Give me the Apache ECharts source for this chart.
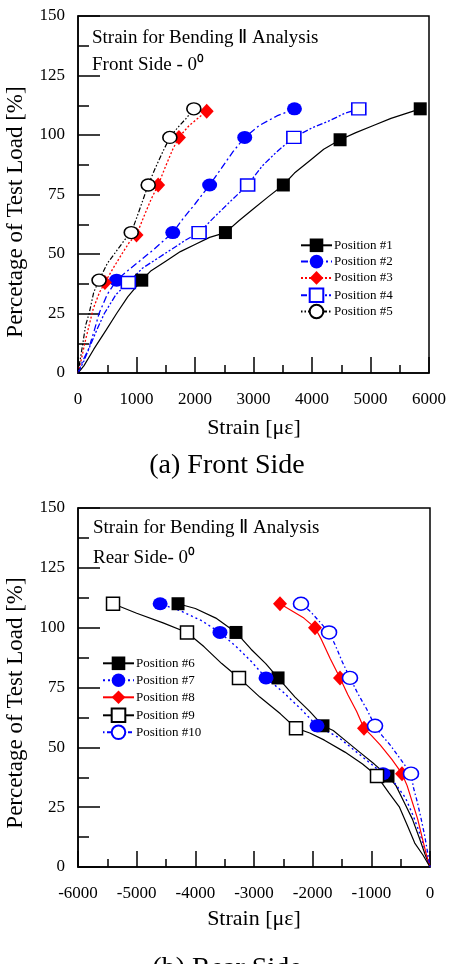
<!DOCTYPE html>
<html>
<head>
<meta charset="utf-8">
<script src="https://cdn.jsdelivr.net/npm/echarts@6/dist/echarts.min.js"></script>
<style>
html,body{margin:0;padding:0;background:#fff;}
#chart{width:449px;height:964px;}
</style>
</head>
<body>
<div id="chart"></div>
<script>
// ---------- Data (strain [με], load [%]) ----------
// Front side (a)
const p1Curve = [[0,0],[100,3],[270,10],[480,18],[660,25],[850,32],[1250,43],[1500,47],[1750,51],[2000,54],[2250,57],[2750,64],[3000,69],[3250,74],[3700,84],[3950,89],[4200,94],[4750,101],[5050,104],[5350,107],[5600,109]];
const p1Marks = [[1090,39],[2520,59],[3510,79],[4480,98],[5850,111]];
const p2Curve = [[0,0],[80,5],[180,10],[280,18],[360,25],[500,33],[850,43],[1050,47],[1300,52],[1800,65],[2000,71],[2450,86],[2650,93],[3100,104],[3400,108]];
const p2Marks = [[660,39],[1620,59],[2250,79],[2850,99],[3700,111]];
const p3Curve = [[0,0],[60,6],[120,13],[190,20],[260,27],[370,34],[600,44],[750,50],[880,55],[1130,66],[1250,73],[1500,87],[1620,94],[1900,104],[2050,107]];
const p3Marks = [[460,38],[1000,58],[1370,79],[1725,99],[2200,110]];
const p4Curve = [[0,0],[100,5],[200,11],[320,18],[450,25],[650,33],[1100,44],[1350,48],[1600,52],[1850,56],[2350,66],[2600,72],[3150,87],[3400,93],[4000,103],[4300,106],[4550,109]];
const p4Marks = [[860,38],[2070,59],[2900,79],[3690,99],[4800,111]];
const p5Curve = [[0,0],[40,6],[80,12],[130,20],[190,25],[270,34],[500,46],[650,51],[800,56],[1000,65],[1100,72],[1320,86],[1450,93],[1700,103],[1850,107]];
const p5Marks = [[360,39],[910,59],[1200,79],[1570,99],[1980,111]];
// Rear side (b)
const p6Curve = [[0,0],[-80,5],[-180,12],[-300,20],[-420,26],[-580,34],[-950,43],[-1200,48],[-1450,53],[-1650,57],[-2050,65],[-2300,71],[-2800,85],[-3050,91],[-3650,104],[-4000,108]];
const p6Marks = [[-716,38],[-1824,59],[-2590,79],[-3307,98],[-4295,110]];
const p7Curve = [[0,0],[-70,6],[-160,13],[-280,21],[-420,29],[-600,35],[-1050,44],[-1300,49],[-1550,54],[-2200,66],[-2500,73],[-3050,86],[-3300,92],[-3900,103],[-4250,107]];
const p7Marks = [[-801,39],[-1926,59],[-2795,79],[-3580,98],[-4600,110]];
const p8Curve = [[0,0],[-60,5],[-130,12],[-210,20],[-300,27],[-390,34],[-650,45],[-850,51],[-1000,55],[-1250,65],[-1400,72],[-1700,87],[-1850,95],[-2150,104],[-2350,107]];
const p8Marks = [[-477,39],[-1125,58],[-1534,79],[-1960,100],[-2557,110]];
const p9Curve = [[0,0],[-120,5],[-260,10],[-380,17],[-520,25],[-700,31],[-1150,43],[-1450,48],[-1800,53],[-2050,56],[-2550,64],[-2900,71],[-3550,85],[-3850,92],[-4550,102],[-5000,106]];
const p9Marks = [[-903,38],[-2284,58],[-3256,79],[-4142,98],[-5403,110]];
const p10Curve = [[0,0],[-40,6],[-90,13],[-150,20],[-215,27],[-280,33],[-500,45],[-680,51],[-820,55],[-1080,66],[-1220,72],[-1500,86],[-1620,93],[-1900,103],[-2050,107]];
const p10Marks = [[-324,39],[-937,59],[-1364,79],[-1721,98],[-2199,110]];

const frontNames = ['Position #1','Position #2','Position #3','Position #4','Position #5'];
const rearNames = ['Position #6','Position #7','Position #8','Position #9','Position #10'];
const loadTicks = [0,25,50,75,100,125,150];
const frontStrainTicks = [0,1000,2000,3000,4000,5000,6000];
const rearStrainTicks = [-6000,-5000,-4000,-3000,-2000,-1000,0];

// ---------- Build ----------
const FONT = '"Liberation Serif","Times New Roman",serif';
const BLUE = '#0000ff', RED = '#ff0000', BLACK = '#000000';

function buildData(curve, marks){
  const pts = curve.map(p => ({value:p, symbol:'none'}))
    .concat(marks.map(p => ({value:p})));
  pts.sort((a,b) => a.value[1] - b.value[1] || Math.abs(a.value[0]) - Math.abs(b.value[0]));
  return pts;
}

function mkSeries(name, idx, curve, marks, cfg){
  return {
    name: name, type: 'line', xAxisIndex: idx, yAxisIndex: idx,
    data: buildData(curve, marks),
    symbol: cfg.symbol, symbolSize: cfg.size, showSymbol: true,
    showAllSymbol: true,
    lineStyle: {color: cfg.line, width: cfg.width || 1.2, type: cfg.dash || 'solid'},
    itemStyle: {color: cfg.fill, borderColor: cfg.line, borderWidth: cfg.bw || 0, opacity: 1},
    emphasis: {disabled: true},
    animation: false, z: cfg.z || 2
  };
}

function xAxisCfg(idx, min, max){
  return {
    gridIndex: idx, type: 'value', min: min, max: max, interval: 1000,
    axisLine: {onZero: false, lineStyle: {color: BLACK, width: 1.5}},
    axisTick: {inside: true, length: 16, lineStyle: {color: BLACK, width: 1.5}},
    minorTick: {show: true, splitNumber: 2, length: 8, lineStyle: {color: BLACK, width: 1.5}},
    splitLine: {show: false}, minorSplitLine: {show: false},
    axisLabel: {color: BLACK, fontFamily: FONT, fontSize: 17, margin: 18,
      formatter: v => String(v)}
  };
}
function yAxisCfg(idx){
  return {
    gridIndex: idx, type: 'value', min: loadTicks[0], max: loadTicks[loadTicks.length-1], interval: 25,
    axisLine: {onZero: false, lineStyle: {color: BLACK, width: 1.5}},
    axisTick: {inside: true, length: 22, lineStyle: {color: BLACK, width: 1.5}},
    minorTick: {show: true, splitNumber: 2, length: 11, lineStyle: {color: BLACK, width: 1.5}},
    splitLine: {show: false}, minorSplitLine: {show: false},
    axisLabel: {color: BLACK, fontFamily: FONT, fontSize: 17, margin: 13}
  };
}

const series = [
  mkSeries(frontNames[0], 0, p1Curve, p1Marks, {symbol:'rect', size:13, line:BLACK, fill:BLACK, width:1.2}),
  mkSeries(frontNames[1], 0, p2Curve, p2Marks, {symbol:'circle', size:[15,13], line:BLUE, fill:BLUE, dash:[7,3,2,3], width:1.3}),
  mkSeries(frontNames[2], 0, p3Curve, p3Marks, {symbol:'diamond', size:[14,15], line:RED, fill:RED, dash:[2,2], width:1.3}),
  mkSeries(frontNames[3], 0, p4Curve, p4Marks, {symbol:'rect', size:[14,12], line:BLUE, fill:'#ffffff', bw:1.5, dash:[6,2,2,2,2,2], width:1.3}),
  mkSeries(frontNames[4], 0, p5Curve, p5Marks, {symbol:'circle', size:[14,12], line:BLACK, fill:'#ffffff', bw:1.5, dash:[1.5,2,1.5,2,5,2], width:1.2}),
  mkSeries(rearNames[0], 1, p6Curve, p6Marks, {symbol:'rect', size:13, line:BLACK, fill:BLACK, width:1.2}),
  mkSeries(rearNames[1], 1, p7Curve, p7Marks, {symbol:'circle', size:[15,13], line:BLUE, fill:BLUE, dash:[2,3], width:1.4}),
  mkSeries(rearNames[2], 1, p8Curve, p8Marks, {symbol:'diamond', size:[14,15], line:RED, fill:RED, width:1.2}),
  mkSeries(rearNames[3], 1, p9Curve, p9Marks, {symbol:'rect', size:[13,13], line:BLACK, fill:'#ffffff', bw:1.5, width:1.2}),
  mkSeries(rearNames[4], 1, p10Curve, p10Marks, {symbol:'circle', size:[15,13], line:BLUE, fill:'#ffffff', bw:1.5, dash:[1.5,2.5,4,2.5], width:1.3})
];

function txt(x, y, text, size, opts){
  opts = opts || {};
  return {type:'text', x:x, y:y, rotation: opts.rot || 0, z: 10,
    style:{text:text, fill:BLACK, font: size + 'px ' + FONT,
      textAlign: opts.align || 'left', textVerticalAlign: 'middle'}};
}

// one legend component per entry, so each row sits where the reference puts it
const LEG_H = 17;
function legendItem(name, left, centerY){
  return {data: [name], orient: 'vertical', left: left, top: centerY - LEG_H/2,
    itemWidth: 31, itemHeight: LEG_H, selectedMode: false, padding: 0,
    textStyle: {color: BLACK, fontFamily: FONT, fontSize: 13, padding: [0,0,0,-3]}};
}
const frontRows = [247, 263.3, 279.6, 295.9, 312.2];
const rearRows = [665, 682, 699, 716, 733];
const legends = frontNames.map((n,i) => legendItem(n, 300, frontRows[i]))
  .concat(rearNames.map((n,i) => legendItem(n, 102, rearRows[i])));

const option = {
  animation: false,
  backgroundColor: '#ffffff',
  grid: [
    {left: 78, top: 16, width: 352, height: 357, show: true, borderColor: BLACK, borderWidth: 1.5, backgroundColor: 'transparent'},
    {left: 78, top: 508, width: 352, height: 359, show: true, borderColor: BLACK, borderWidth: 1.5, backgroundColor: 'transparent'}
  ],
  xAxis: [xAxisCfg(0, frontStrainTicks[0], frontStrainTicks[6]), xAxisCfg(1, rearStrainTicks[0], rearStrainTicks[6])],
  yAxis: [yAxisCfg(0), yAxisCfg(1)],
  legend: legends,
  graphic: [
    txt(92, 38, 'Strain for Bending Ⅱ Analysis', 19),
    txt(92, 65, 'Front Side - 0⁰', 19),
    txt(93, 528, 'Strain for Bending Ⅱ Analysis', 19),
    txt(93, 558, 'Rear Side- 0⁰', 19),
    txt(254, 428, 'Strain [με]', 22, {align:'center'}),
    txt(254, 919, 'Strain [με]', 22, {align:'center'}),
    txt(227, 466, '(a) Front Side', 28, {align:'center'}),
    txt(227, 969, '(b) Rear Side', 28, {align:'center'}),
    txt(16, 212, 'Percetage of Test Load [%]', 23, {align:'center', rot: Math.PI/2}),
    txt(16, 703, 'Percetage of Test Load [%]', 23, {align:'center', rot: Math.PI/2})
  ],
  series: series
};

const chart = echarts.init(document.getElementById('chart'), null, {renderer: 'canvas'});
chart.setOption(option);
</script>
</body>
</html>
